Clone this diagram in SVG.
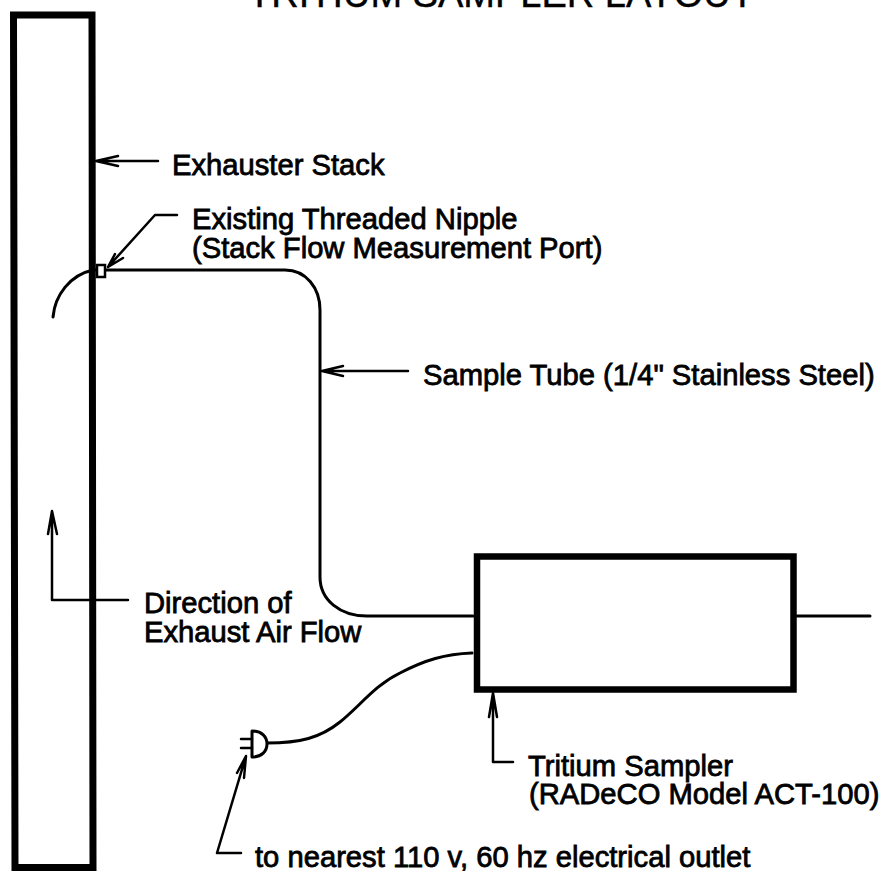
<svg xmlns="http://www.w3.org/2000/svg" width="886" height="871" viewBox="0 0 886 871">
<style>
text{font-family:"Liberation Sans",Arial,sans-serif;font-size:29.2px;fill:#000;stroke:#000;stroke-width:.8}
.t{font-size:38px;stroke-width:.4}
.w{fill:none;stroke:#000;stroke-linecap:round;stroke-linejoin:round}
.l{stroke-width:2.5}.m{stroke-width:3}
</style>
<rect width="886" height="871" fill="#fff"/>
<text class="t" x="248" y="7">TRITIUM SAMPLER LAYOUT</text>
<g id="stack"><path d="M13.500 15H92L93 867.500H15z" fill="none" stroke="#000" stroke-width="7"/></g>
<g id="sampler"><rect x="477" y="556.500" width="316.500" height="133" fill="none" stroke="#000" stroke-width="6.500"/></g>
<g id="connectors" class="w">
<path class="m" d="M53 317C55 295 70 275 93 270H285C306 270 320 288 320 310V577C320 600 340 616 367 616H473"/>
<path class="m" d="M267 743C300 743 320 738 340 722C360 706 375 685 400 673C425 660 445 654 472 653"/>
<path class="m" d="M797 616H870"/>
<path class="l" d="M96 161H158M118 156L96 161L118 166"/>
<path class="l" d="M177 215H155L108 267M115 254L108 267L123 258"/>
<path class="l" d="M322 371H408M343 366L322 371L343 376"/>
<path class="l" d="M52 511V600H128M48 534L52 511L57 534"/>
<path class="l" d="M493 693V762H513M489 717L493 693L497 717"/>
<path class="l" d="M246 756L217 853H241M237 773L246 756L244 778"/>
</g>
<g id="nipple"><rect x="97" y="265" width="8" height="12" fill="#fff" stroke="#000" stroke-width="2.500"/></g>
<g id="plug" class="w m">
<path d="M252 731V757C262 757 267 751 267 744C267 737 262 731 252 731Z" fill="#fff"/>
<path class="l" d="M241 739H252M241 748H252"/>
</g>
<g id="labels">
<text x="172" y="175">Exhauster Stack</text>
<text x="192" y="229">Existing Threaded Nipple</text>
<text x="192" y="258">(Stack Flow Measurement Port)</text>
<text x="423" y="385">Sample Tube (1/4" Stainless Steel)</text>
<text x="144" y="613">Direction of</text>
<text x="144" y="642">Exhaust Air Flow</text>
<text x="528" y="776">Tritium Sampler</text>
<text x="529" y="804">(RADeCO Model ACT-100)</text>
<text x="255" y="867">to nearest 110 v, 60 hz electrical outlet</text>
</g>
</svg>
